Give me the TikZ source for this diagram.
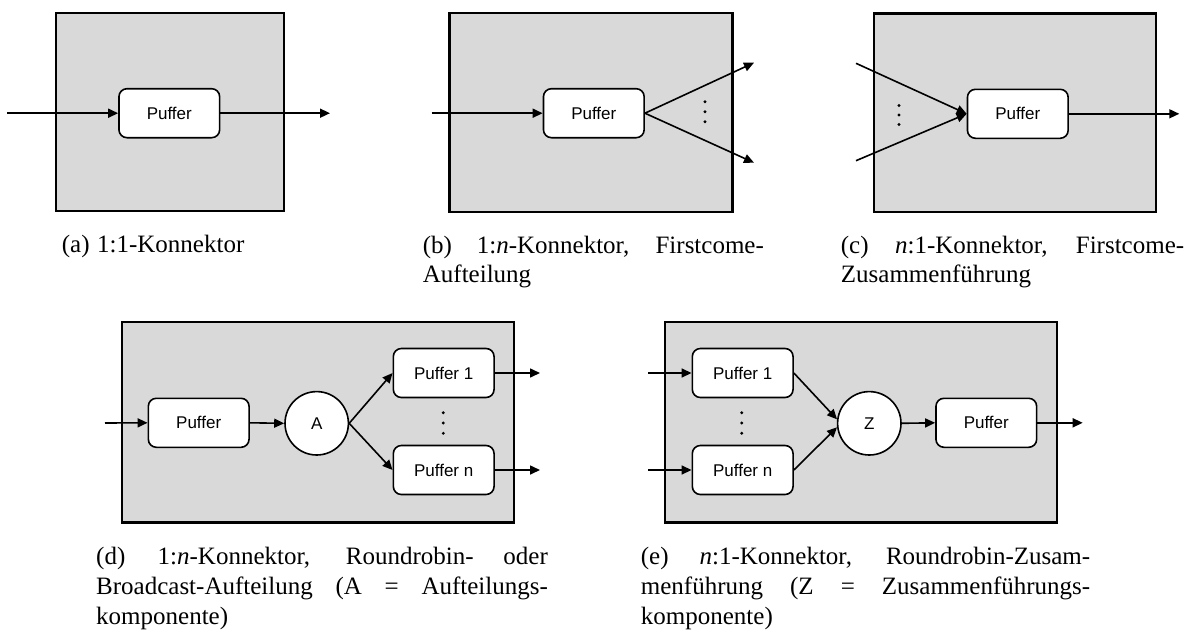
\documentclass[tikz,border=0pt]{standalone}
\usepackage{fontspec}
\setmainfont{Liberation Serif}
\setsansfont{Liberation Sans}
\usetikzlibrary{arrows.meta}
\definecolor{panelgray}{RGB}{217,217,217}
\tikzset{
  frame/.style={draw=black, line width=2.4pt, fill=panelgray},
  buf/.style={draw=black, line width=1.6pt, fill=white, rounded corners=8pt,
    minimum width=100.7pt, minimum height=49pt, inner sep=0pt,
    font=\sffamily\fontsize{17}{20}\selectfont},
  comp/.style={draw=black, circle, line width=1.6pt, fill=white,
    minimum size=63.4pt, inner sep=0pt,
    font=\sffamily\fontsize{17}{20}\selectfont},
  conn/.style={line width=1.6pt, -{Triangle[length=10pt,width=9pt]}},
  captext/.style={inner sep=0pt, anchor=base west,
    font=\fontsize{25}{29.8}\selectfont},
  dotmark/.style={fill=black}
}
\begin{document}
\begin{tikzpicture}[x=1pt,y=-1pt]
\useasboundingbox (0,0) rectangle (1194,632);

% ---------- frames ----------
\draw[frame] (56,12.7) rectangle (283.7,211);
\draw[frame] (449.3,12.7) rectangle (732.3,212);
\draw[frame] (874,13.3) rectangle (1156,212);
\draw[frame] (122,321.7) rectangle (514,522.3);
\draw[frame] (665,321.7) rectangle (1056.7,522.3);

% ---------- (a) ----------
\coordinate (ain) at (7,113.2);
\coordinate (aout) at (330,113.2);
\node[buf] (pa) at (169.3,113.2) {Puffer};
\draw[conn] (ain) -- (pa.west);
\draw[conn] (pa.east) -- (aout);

% ---------- (b) ----------
\coordinate (bin) at (431.7,113.2);
\coordinate (bout1) at (754,62.7);
\coordinate (bout2) at (754,162.7);
\node[buf] (pb) at (593.8,113.2) {Puffer};
\draw[conn] (bin) -- (pb.west);
\draw[conn] (pb.east) -- (bout1);
\draw[conn] (pb.east) -- (bout2);
\foreach \yy in {101.7,111.7,121.7} \fill[dotmark] (705,\yy) circle (1.6pt);

% ---------- (c) ----------
\coordinate (cin1) at (856,63.3);
\coordinate (cin2) at (856,160.7);
\coordinate (cout) at (1179.3,113.8);
\node[buf] (pc) at (1017.8,113.8) {Puffer};
\draw[conn] (cin1) -- (pc.west);
\draw[conn] (cin2) -- (pc.west);
\draw[conn] (pc.east) -- (cout);
\foreach \yy in {105.5,115,124.5} \fill[dotmark] (899,\yy) circle (1.6pt);

% ---------- (d) ----------
\coordinate (din) at (105,423);
\coordinate (dout1) at (540,373);
\coordinate (doutn) at (540,470);
\node[buf] (pd) at (198.7,422.8) {Puffer};
\node[comp] (A) at (316.7,423.3) {A};
\node[buf] (pd1) at (443.7,373) {Puffer 1};
\node[buf] (pdn) at (443.7,470) {Puffer n};
\draw[conn] (din) -- (pd.west);
\draw[conn] (pd.east) -- (A.west);
\draw[conn] (A.east) -- (pd1.west);
\draw[conn] (A.east) -- (pdn.west);
\draw[conn] (pd1.east) -- (dout1);
\draw[conn] (pdn.east) -- (doutn);
\foreach \yy in {412.7,423,433.3} \fill[dotmark] (443.3,\yy) circle (1.6pt);

% ---------- (e) ----------
\coordinate (ein1) at (648.3,373);
\coordinate (einn) at (648.3,470);
\coordinate (eout) at (1082.7,422.8);
\node[buf] (pe1) at (742.7,373) {Puffer 1};
\node[buf] (pen) at (742.7,470) {Puffer n};
\node[comp] (Z) at (869.3,423.3) {Z};
\node[buf] (pe) at (986.3,422.8) {Puffer};
\draw[conn] (ein1) -- (pe1.west);
\draw[conn] (einn) -- (pen.west);
\draw[conn] (pe1.east) -- (Z.173);
\draw[conn] (pen.east) -- (Z.187);
\draw[conn] (Z.east) -- (pe.west);
\draw[conn] (pe.east) -- (eout);
\foreach \yy in {412.7,423,433.3} \fill[dotmark] (741.7,\yy) circle (1.6pt);

% ---------- captions ----------
\node[captext] (capa) at (61.7,252.7) {(a)\hspace{0.05em} 1:1-Konnektor};
\node[captext] (capb) at (422.7,253) {\parbox[t]{341pt}{\makebox[341pt][s]{(b)\hspace{0.1em} 1:\textit{n}-Konnektor, Firstcome-}\\Aufteilung}};
\node[captext] (capc) at (840.7,253) {\parbox[t]{343.3pt}{\makebox[343.3pt][s]{(c)\hspace{0.1em} \textit{n}:1-Konnektor, Firstcome-}\\Zusammenf\"uhrung}};
\node[captext] (capd) at (96,564.5) {\parbox[t]{451.7pt}{\makebox[451.7pt][s]{(d)\hspace{0.1em} 1:\textit{n}-Konnektor, Roundrobin- oder}\\\makebox[451.7pt][s]{Broadcast-Aufteilung (A = Aufteilungs-}\\komponente)}};
\node[captext] (cape) at (640.7,564.5) {\parbox[t]{449.3pt}{\makebox[449.3pt][s]{(e)\hspace{0.1em} \textit{n}:1-Konnektor, Roundrobin-Zusam-}\\\makebox[449.3pt][s]{menf\"uhrung (Z = Zusammenf\"uhrungs-}\\komponente)}};
\end{tikzpicture}
\end{document}
